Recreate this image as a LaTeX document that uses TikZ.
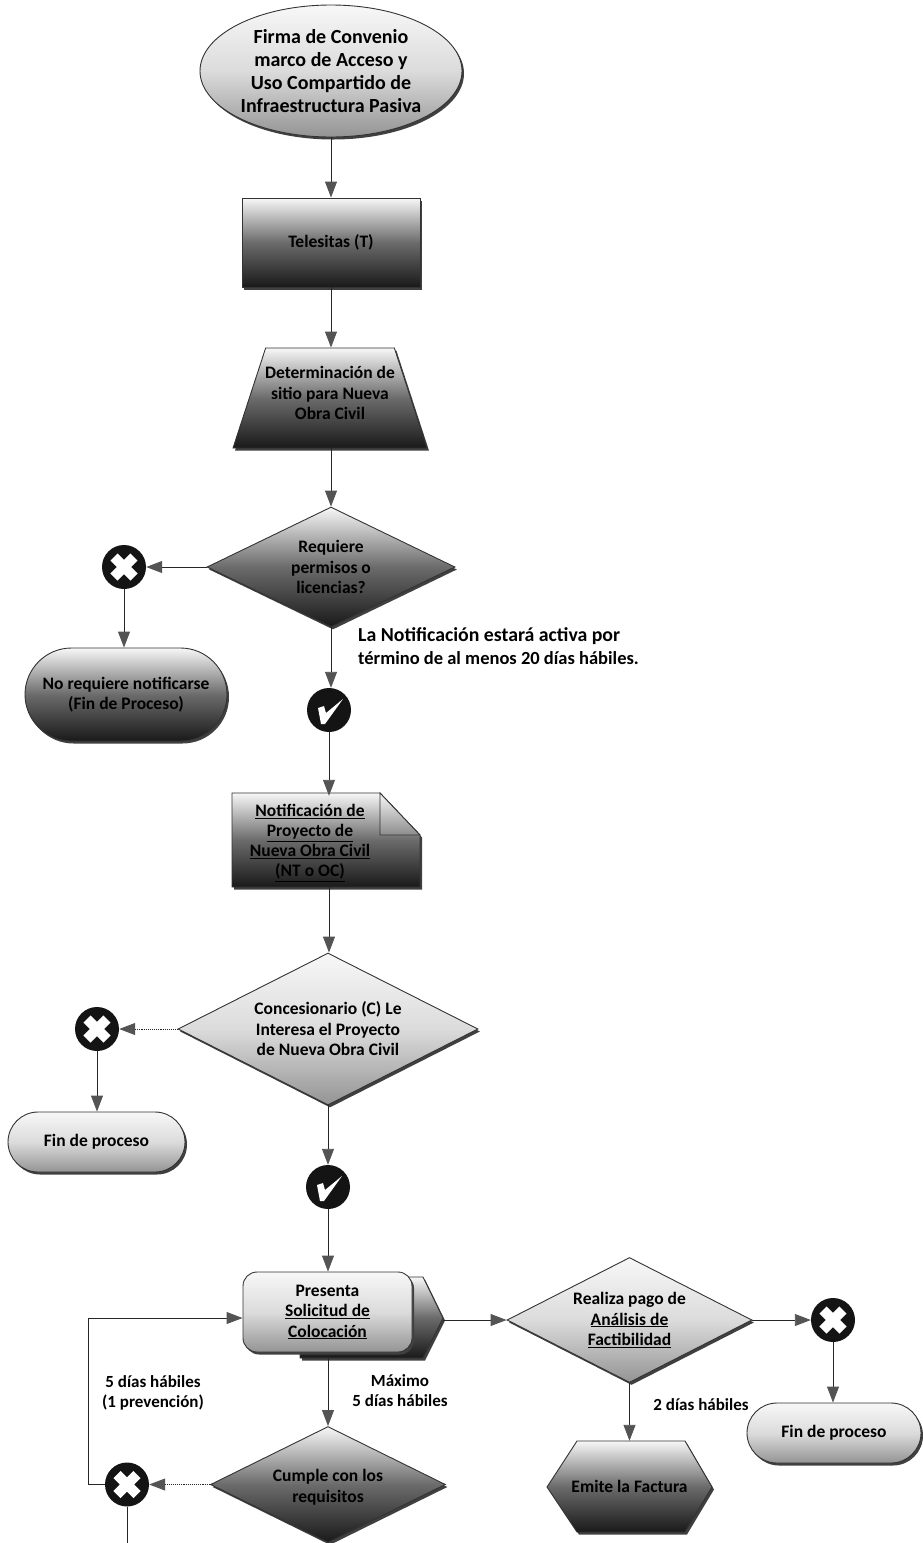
\documentclass[tikz,border=0pt]{standalone}
\usepackage{fontspec}
\setmainfont{Carlito}
\usetikzlibrary{arrows.meta,shapes.geometric,shapes.misc,shadows}
\definecolor{lite}{gray}{0.97}
\definecolor{tip}{gray}{0.33}
\tikzset{
  every node/.style={font=\fontsize{17.5}{20.5}\selectfont\bfseries,align=center,inner sep=0pt,text=black},
  conn/.style={draw=black!85,line width=0.9pt,-{Triangle[length=16pt,width=12pt,fill=tip,color=tip]}},
  plainconn/.style={draw=black!85,line width=0.9pt},
  soft/.style={top color=lite,bottom color=black!42,middle color=black!14,draw=black!80,line width=0.9pt,
    drop shadow={shadow xshift=2pt,shadow yshift=-2.5pt,fill=black!75,opacity=1}},
  hard/.style={top color=lite,bottom color=black!90,middle color=black!58,draw=black!80,line width=0.9pt,
    drop shadow={shadow xshift=2pt,shadow yshift=-2.5pt,fill=black!75,opacity=1}},
  dia/.style={diamond,aspect=2},
  nomark/.style={circle,fill=black!92,minimum size=44pt,path picture={
    \draw[white,line width=10pt]
      ([shift={(-10,-10)}]path picture bounding box.center) -- ([shift={(10,10)}]path picture bounding box.center)
      ([shift={(-10,10)}]path picture bounding box.center) -- ([shift={(10,-10)}]path picture bounding box.center);}},
  yesmark/.style={circle,fill=black!92,minimum size=44pt,path picture={
    \fill[white]
      ([shift={(-11,-2)}]path picture bounding box.center) -- ([shift={(-5,-4)}]path picture bounding box.center)
      -- ([shift={(-3,3)}]path picture bounding box.center) -- ([shift={(14,-11)}]path picture bounding box.center)
      -- ([shift={(-4,14)}]path picture bounding box.center) -- ([shift={(-8,14)}]path picture bounding box.center) -- cycle;}},
  small/.style={font=\fontsize{17}{20}\selectfont\bfseries},
  bigger/.style={font=\fontsize{20}{23}\selectfont\bfseries},
  note/.style={font=\fontsize{18.5}{23}\selectfont\bfseries},
}
\begin{document}
\begin{tikzpicture}[x=1pt,y=-1pt]
\useasboundingbox (0,0) rectangle (922,1543);
% ---- shapes
\node[ellipse,soft,bigger,minimum width=262pt,minimum height=132pt] (start) at (331,71)
  {Firma de Convenio\\marco de Acceso y\\Uso Compartido de\\Infraestructura Pasiva};
\node[rectangle,hard,minimum width=178pt,minimum height=89pt] (tele) at (331,242.5) {\raisebox{-2pt}{Telesitas (T)}};
\node[trapezium,hard,trapezium stretches=true,trapezium left angle=76.5,trapezium right angle=76.5,
  minimum width=194pt,minimum height=100pt] (sitio) at (330,398) {\phantom{x}};
\node (sitiotxt) at (330,393) {Determinación de\\sitio para  Nueva\\Obra Civil};
\node[dia,hard,minimum width=248pt,minimum height=120pt] (d1) at (331,567)
  {Requiere\\permisos o\\licencias?};
\node[nomark] (x1) at (124,567) {};
\node[rounded rectangle,hard,minimum width=202pt,minimum height=93pt] (fin1) at (126,694.5)
  {\raisebox{-2pt}{No requiere notificarse}\\\raisebox{-2pt}{(Fin de Proceso)}};
\node[yesmark] (v1) at (329,710) {};
% note document
\path[hard] (232,793) -- (380,793) -- (420,835) -- (420,887) -- (232,887) -- cycle;
\path[top color=lite,bottom color=black!45,draw=black!80,line width=0.9pt] (380,793) -- (380,835) -- (420,835) -- cycle;
\node[minimum width=156pt,minimum height=94pt,font=\fontsize{17.5}{20}\selectfont\bfseries] (nota) at (310,843)
  {\underline{Notificación de}\\\underline{Proyecto de}\\\underline{Nueva Obra Civil}\\\underline{(NT o OC)}};
\coordinate (notab) at (329,887);
\node[dia,soft,minimum width=300pt,minimum height=152pt] (d2) at (328,1029)
  {Concesionario (C) Le\\Interesa el Proyecto\\de Nueva Obra Civil};
\node[nomark] (x2) at (97,1029) {};
\node[rounded rectangle,soft,minimum width=177pt,minimum height=60pt] (fin2) at (96.5,1142) {Fin de proceso};
\node[yesmark] (v2) at (328,1187) {};
% presenta: arrow-shaped piece behind the rounded box
\path[hard] (300,1277) -- (423,1277) -- (443,1318) -- (423,1358) -- (300,1358) -- cycle;
\node[rectangle,rounded corners=14pt,soft,minimum width=169pt,minimum height=80pt] (pres) at (327.5,1312)
  {\raisebox{-3pt}{Presenta}\\\raisebox{-3pt}{\underline{Solicitud de}}\\\raisebox{-3pt}{\underline{Colocación}}};
\coordinate (presr) at (443,1320);
\coordinate (presb) at (328,1358);
\node[dia,hard,minimum width=235pt,minimum height=116pt] (d3) at (328,1484.5) {\phantom{x}};
\node (d3txt) at (328,1487) {Cumple con los\\requisitos};
\node[nomark] (x3) at (127,1484.5) {};
\coordinate (below) at (127,1543);
\coordinate (bend1) at (88,1484.5);
\coordinate (bend2) at (88,1318);
\node[dia,soft,minimum width=245pt,minimum height=125pt] (d4) at (629.5,1320)
  {Realiza pago de\\\underline{Análisis de}\\\underline{Factibilidad}};
\node[nomark] (x4) at (833,1320) {};
\node[rounded rectangle,soft,minimum width=174pt,minimum height=60pt] (fin3) at (834,1433) {Fin de proceso};
\path[hard] (577,1441) -- (685,1441) -- (712,1487) -- (685,1532) -- (577,1532) -- (547,1487) -- cycle;
\node[minimum width=165pt,minimum height=91pt] (fact) at (629.5,1486.5) {Emite la Factura};
% ---- connectors
\draw[conn] (start.south) -- (tele.north);
\draw[conn] (tele.south) -- (tele.south |- sitio.north);
\draw[conn] (sitio.south -| d1.north) -- (d1.north);
\draw[conn] (d1.west) -- (x1.east);
\draw[conn] (x1.south) -- (x1.south |- fin1.north);
\draw[conn] (d1.south) -- (d1.south |- v1.north);
\draw[conn] (v1.south) -- (v1.south |- nota.north);
\draw[conn] (notab) -- (d2.north -| notab);
\draw[conn,densely dotted] (d2.west) -- (x2.east);
\draw[conn] (x2.south) -- (x2.south |- fin2.north);
\draw[conn] (d2.south) -- (v2.north);
\draw[conn] (v2.south) -- (v2.south |- pres.north);
\draw[conn] (presr) -- (d4.west);
\draw[conn] (presb) -- (d3.north);
\draw[conn,densely dotted] (d3.west) -- (x3.east);
\draw[plainconn] (x3.south) -- (below);
\draw[conn] (x3.west) -- (bend1) -- (bend2) -- (bend2 -| pres.west);
\draw[conn] (d4.east) -- (x4.west);
\draw[conn] (x4.south) -- (x4.south |- fin3.north);
\draw[conn] (d4.south) -- (d4.south |- fact.north);
% ---- labels
\node[note,align=left,anchor=west] (lbl1) at (358,646)
  {{\fontsize{19.8}{23}\selectfont La Notificación estará activa por}\\término de al menos 20 días hábiles.};
\node[small] (lbl2) at (153,1393) {5 días hábiles\\(1 prevención)};
\node[small] (lbl3) at (400,1391) {Máximo\\5 días hábiles};
\node[small] (lbl4) at (701,1405) {2 días hábiles};
\end{tikzpicture}
\end{document}
